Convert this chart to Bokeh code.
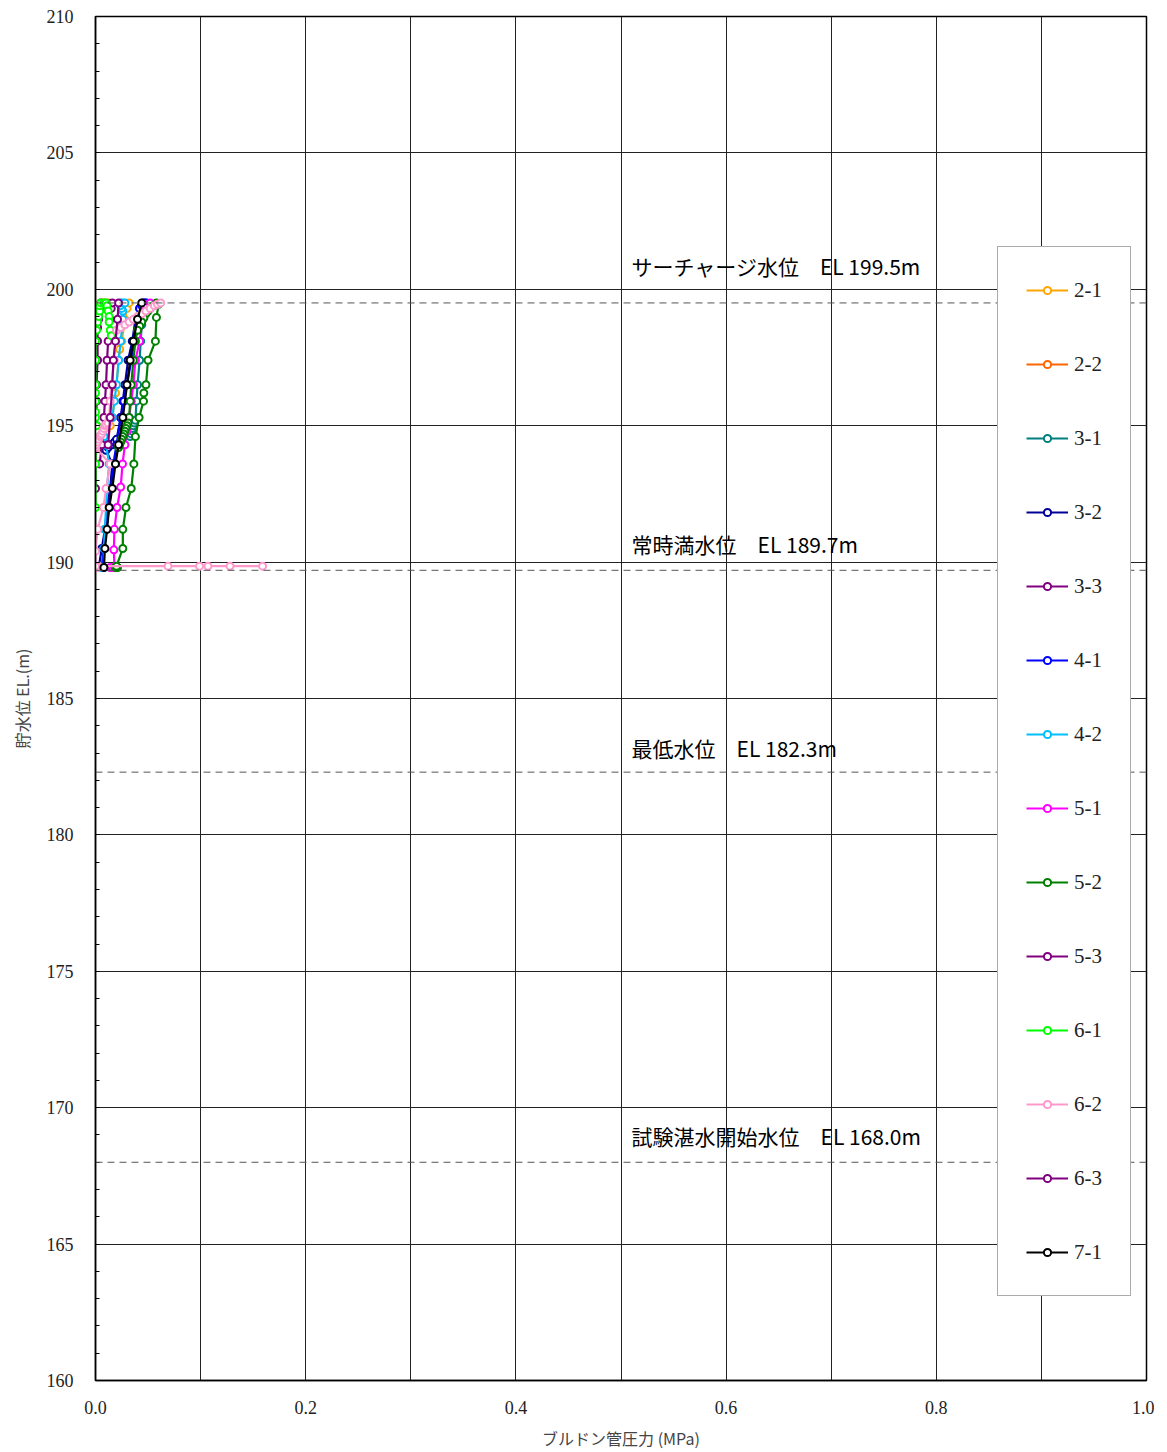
from bokeh.plotting import figure
from bokeh.models import (Span, Legend, LegendItem, SingleIntervalTicker, NumeralTickFormatter)
from bokeh.core.properties import value
from bokeh.embed import file_html
from bokeh.resources import INLINE

# ---------------- data ----------------
series_names = ["2-1", "2-2", "3-1", "3-2", "3-3", "4-1", "4-2",
                "5-1", "5-2", "5-3", "6-1", "6-2", "6-3", "7-1"]
series_colors = ["#FFA500", "#FF6600", "#008080", "#000099", "#800080", "#0000FF", "#00BFFF",
                 "#FF00FF", "#008000", "#800080", "#00FF00", "#FF99CC", "#800080", "#000000"]

p_21 = [0.002, 0.006, 0.010, 0.014, 0.016, 0.018, 0.019, 0.020, 0.022, 0.023, 0.025, 0.028, 0.030, 0.032]
el_21 = [194.2, 194.5, 194.8, 195.0, 195.3, 195.9, 196.2, 196.5, 197.4, 197.8, 198.1, 198.9, 199.3, 199.5]

p_22 = [0.000, 0.000, 0.001, 0.001, 0.002, 0.003, 0.004, 0.006, 0.009, 0.012]
el_22 = [199.0, 199.1, 199.2, 199.3, 199.35, 199.4, 199.45, 199.5, 199.5, 199.5]

p_31 = [0.006, 0.008, 0.010, 0.012, 0.015, 0.018, 0.022, 0.033, 0.034, 0.035, 0.035, 0.036, 0.037, 0.038,
        0.039, 0.040, 0.042, 0.043, 0.044, 0.046, 0.048]
el_31 = [189.8, 190.5, 191.2, 192.0, 192.7, 193.6, 194.3, 194.6, 194.7, 194.8, 194.9, 195.0, 195.1, 195.2,
         195.9, 196.5, 197.4, 198.1, 198.7, 199.2, 199.5]

p_32 = [0.003, 0.006, 0.009, 0.011, 0.014, 0.016, 0.010, 0.012, 0.014, 0.016, 0.018, 0.020,
        0.024, 0.026, 0.028, 0.031, 0.035, 0.038, 0.042, 0.045]
el_32 = [189.8, 190.5, 191.2, 192.0, 192.7, 193.6, 194.1, 194.2, 194.3, 194.3, 194.4, 194.5,
         195.3, 195.9, 196.5, 197.4, 198.1, 198.9, 199.3, 199.5]

p_33 = [0.000, 0.000, 0.000, 0.001, 0.001, 0.001, 0.002, 0.002, 0.002, 0.003, 0.003, 0.004, 0.005]
el_33 = [192.7, 193.6, 194.3, 195.0, 195.9, 196.5, 197.4, 198.1, 198.6, 198.9, 199.1, 199.3, 199.5]

p_41 = [0.006, 0.008, 0.010, 0.013, 0.015, 0.017, 0.020, 0.024, 0.027, 0.030, 0.034, 0.037, 0.040,
        0.042, 0.044, 0.046, 0.048]
el_41 = [189.8, 190.5, 191.2, 192.0, 192.7, 193.6, 194.3, 195.3, 195.9, 196.5, 197.4, 198.1, 198.9,
         199.3, 199.4, 199.5, 199.5]

p_42 = [0.004, 0.006, 0.008, 0.008, 0.009, 0.010, 0.011, 0.013, 0.010, 0.008, 0.016, 0.018, 0.020,
        0.022, 0.024, 0.026, 0.026, 0.025, 0.024, 0.024, 0.026, 0.028]
el_42 = [189.8, 189.8, 189.8, 190.5, 191.2, 192.0, 192.7, 193.6, 194.3, 194.6, 195.3, 195.9, 196.5,
         197.4, 198.1, 198.9, 199.2, 199.3, 199.4, 199.5, 199.5, 199.5]

p_51 = [0.014, 0.016, 0.018, 0.0175, 0.018, 0.0205, 0.024, 0.0257, 0.028, 0.030, 0.032, 0.034, 0.036,
        0.038, 0.042, 0.045, 0.047, 0.049, 0.052]
el_51 = [189.8, 189.8, 189.8, 190.45, 191.2, 192.0, 192.75, 193.6, 194.3, 194.8, 195.3, 195.9, 196.5,
         197.4, 198.1, 198.9, 199.2, 199.4, 199.5]

p_52 = [0.019, 0.021, 0.020, 0.026, 0.026, 0.029, 0.034, 0.0365, 0.038, 0.0415, 0.0457, 0.046, 0.048,
        0.050, 0.057, 0.058, 0.060, 0.058, 0.055, 0.052, 0.050, 0.048, 0.046, 0.044, 0.042, 0.040,
        0.038, 0.036, 0.034, 0.033, 0.032, 0.031, 0.030, 0.029, 0.028, 0.027, 0.026, 0.025, 0.024,
        0.023, 0.022]
el_52 = [189.8, 189.8, 189.85, 190.5, 191.2, 192.0, 192.7, 193.6, 194.6, 195.3, 195.9, 196.2, 196.5,
         197.4, 198.1, 198.97, 199.45, 199.5, 199.4, 199.3, 199.2, 199.1, 198.95, 198.8, 198.65, 198.5,
         198.1, 197.4, 196.5, 195.9, 195.3, 195.1, 195.0, 194.9, 194.8, 194.7, 194.6, 194.5, 194.4,
         194.3, 194.2]

p_53 = [0.004, 0.006, 0.008, 0.009, 0.010, 0.011, 0.012, 0.014, 0.015, 0.016]
el_53 = [193.6, 194.3, 195.3, 195.9, 196.5, 197.4, 198.1, 198.9, 199.3, 199.5]

p_61 = [0.000, 0.000, 0.000, 0.001, 0.002, 0.001, 0.000, 0.000, 0.000, 0.000, 0.000, 0.000, 0.000,
        0.001, 0.002, 0.003, 0.004, 0.004, 0.005, 0.008, 0.010, 0.011, 0.012, 0.013, 0.013, 0.014, 0.015]
el_61 = [192.0, 193.6, 194.3, 194.6, 194.8, 195.0, 195.3, 195.5, 195.9, 196.2, 196.5, 197.4, 198.1,
         198.5, 198.8, 199.0, 199.2, 199.4, 199.5, 199.5, 199.5, 199.4, 199.2, 199.0, 198.8, 198.5, 198.3]

p_62 = [0.159, 0.128, 0.107, 0.099, 0.069, 0.003, 0.002, 0.001, 0.000, 0.000, 0.002, 0.0076, 0.010,
        0.014, 0.000, 0.001, 0.002, 0.003, 0.004, 0.005, 0.006, 0.007, 0.008, 0.009, 0.010, 0.012,
        0.013, 0.014, 0.015, 0.018, 0.019, 0.020, 0.024, 0.028, 0.032, 0.036, 0.040, 0.044, 0.048,
        0.052, 0.056, 0.059, 0.062]
el_62 = [189.85, 189.85, 189.85, 189.85, 189.85, 189.85, 189.8, 189.8, 189.85, 190.4, 191.2, 192.0, 192.7,
         193.6, 194.2, 194.3, 194.4, 194.5, 194.6, 194.65, 194.7, 194.8, 194.9, 195.0, 195.05, 195.1,
         195.3, 195.9, 196.5, 197.4, 198.1, 198.5, 198.6, 198.7, 198.8, 198.9, 199.0, 199.1, 199.2,
         199.3, 199.4, 199.45, 199.5]

p_63 = [0.012, 0.014, 0.016, 0.017, 0.019, 0.021, 0.022]
el_63 = [194.3, 195.3, 196.5, 197.4, 198.1, 198.9, 199.5]

p_71 = [0.008, 0.009, 0.011, 0.013, 0.016, 0.019, 0.022, 0.026, 0.030, 0.033, 0.036, 0.040, 0.044]
el_71 = [189.8, 190.5, 191.2, 192.0, 192.7, 193.6, 194.3, 195.3, 196.5, 197.4, 198.1, 198.9, 199.5]

series_p = [p_21, p_22, p_31, p_32, p_33, p_41, p_42, p_51, p_52, p_53, p_61, p_62, p_63, p_71]
series_el = [el_21, el_22, el_31, el_32, el_33, el_41, el_42, el_51, el_52, el_53, el_61, el_62, el_63, el_71]

ref_levels = [199.5, 189.7, 182.3, 168.0]
ref_texts = ["サーチャージ水位\u3000EL 199.5m", "常時満水位\u3000EL 189.7m",
             "最低水位\u3000EL 182.3m", "試験湛水開始水位\u3000EL 168.0m"]
ref_text_x = [0.51, 0.51, 0.51, 0.51]
ref_text_y = [200.87, 190.68, 183.2, 168.98]

x_label = "ブルドン管圧力 (MPa)"
y_label = "貯水位 EL.(m)"

# ---------------- figure ----------------
p = figure(frame_width=1051, frame_height=1364, x_range=(0, 1.0), y_range=(160, 210),
           output_backend="svg", toolbar_location=None,
           min_border_left=95, min_border_right=8, min_border_top=16, min_border_bottom=70)
p.background_fill_color = "white"
p.outline_line_color = "black"
p.outline_line_width = 1.5

serif = "Liberation Serif"
cjk = "Noto Sans CJK JP"

p.xaxis.ticker = SingleIntervalTicker(interval=0.2, num_minor_ticks=0)
p.xaxis.formatter = NumeralTickFormatter(format="0.0")
p.yaxis.ticker = SingleIntervalTicker(interval=5, num_minor_ticks=5)
p.xgrid.ticker = SingleIntervalTicker(interval=0.1)
p.ygrid.ticker = SingleIntervalTicker(interval=5)
for g in (p.xgrid, p.ygrid):
    g.grid_line_color = "#222222"
    g.grid_line_width = 1
    g.grid_line_alpha = 1

for ax in (p.xaxis, p.yaxis):
    ax.axis_line_color = "black"
    ax.axis_line_width = 1.5
    ax.major_label_text_font = serif
    ax.major_label_text_font_size = "18px"
    ax.major_label_text_color = "#222222"
    ax.axis_label_text_font = cjk
    ax.axis_label_text_font_size = "16px"
    ax.axis_label_text_font_style = "normal"
    ax.axis_label_text_color = "#444444"

p.xaxis.major_tick_line_color = None
p.xaxis.minor_tick_line_color = None
p.xaxis.major_label_standoff = 14
p.xaxis.axis_label = x_label
p.xaxis.axis_label_standoff = 9

p.yaxis.major_tick_in = 4
p.yaxis.major_tick_out = 0
p.yaxis.minor_tick_in = 4
p.yaxis.minor_tick_out = 0
p.yaxis.major_tick_line_color = "black"
p.yaxis.minor_tick_line_color = "black"
p.yaxis.major_label_standoff = 22
p.yaxis.axis_label = y_label
p.yaxis.axis_label_standoff = 10

for lvl in ref_levels:
    p.add_layout(Span(location=lvl, dimension="width", line_color="#555555",
                      line_width=1, line_dash="7 5"))

p.text(x=ref_text_x, y=ref_text_y, text=ref_texts, text_font=value(cjk),
       text_font_size="21px", text_baseline="middle", text_align="left", text_color="black")

items = []
for name, color, xs, ys in zip(series_names, series_colors, series_p, series_el):
    ln = p.line(xs, ys, line_color=color, line_width=2.2)
    sc = p.scatter(xs, ys, marker="circle", size=7, line_color=color, line_width=2,
                   fill_color="white")
    items.append(LegendItem(label=name, renderers=[ln, sc]))

legend = Legend(items=items, location=(902, 84), orientation="vertical",
                padding=28, spacing=44, glyph_height=18, label_height=30, glyph_width=42,
                label_standoff=6, label_text_font=serif, label_text_font_size="21px",
                label_text_color="#222222",
                border_line_color="#555555", border_line_width=1.5,
                background_fill_color="white", background_fill_alpha=1, margin=0)
p.add_layout(legend)

open("out.html", "w").write(file_html(p, INLINE))
